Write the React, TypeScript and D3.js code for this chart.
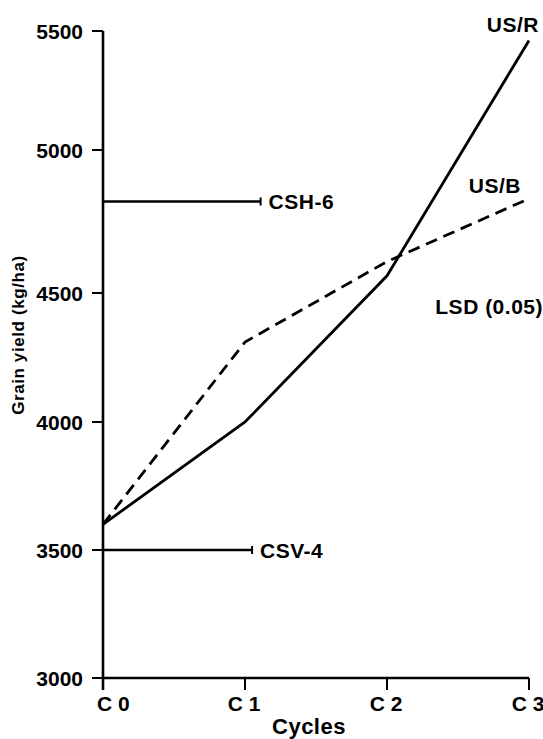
import React, { useEffect, useRef } from "react";
import * as d3 from "d3";

// cycles of selection and yields (kg/ha)
const cycles = ["C 0", "C 1", "C 2", "C 3"];
const usR = [3600, 4000, 4560, 5460];
const usB = [3600, 4310, 4610, 4830];
const yTicks = [3000, 3500, 4000, 4500, 5000, 5500];
// check varieties, drawn as flat reference lines
const checkNames = ["CSH-6", "CSV-4"];
const checkYields = [4820, 3500];
const checkEnds = [1.11, 1.05];

function App() {
    const svgRef = useRef(null);

    useEffect(() => {
        document.body.style.margin = "0";
        const svg = d3.select(svgRef.current);
        svg.selectAll("*").remove();

        const font = "'Liberation Sans', Arial, sans-serif";

        // the printed axis is not quite uniform, so map each tick to where it sits
        const y = d3
            .scaleLinear()
            .domain(yTicks)
            .range([678, 550, 422, 293, 150, 31]);
        const x = d3.scaleLinear().domain([0, 3]).range([103, 529]);

        const g = svg.append("g");

        // y axis
        g.append("line")
            .attr("x1", x(0)).attr("x2", x(0))
            .attr("y1", y(5500)).attr("y2", 690)
            .attr("stroke", "#000").attr("stroke-width", 2.6);
        g.selectAll(".ytick")
            .data(yTicks)
            .enter()
            .append("line")
            .attr("x1", x(0) - 11).attr("x2", x(0))
            .attr("y1", (d) => y(d)).attr("y2", (d) => y(d))
            .attr("stroke", "#000").attr("stroke-width", 2);
        g.selectAll(".ylab")
            .data(yTicks)
            .enter()
            .append("text")
            .attr("x", 83)
            .attr("y", (d) => y(d) + 8)
            .attr("text-anchor", "end")
            .attr("font-family", font)
            .attr("font-weight", "bold")
            .attr("font-size", 21)
            .text((d) => d);

        // x axis
        g.append("line")
            .attr("x1", x(0)).attr("x2", x(3))
            .attr("y1", y(3000)).attr("y2", y(3000))
            .attr("stroke", "#000").attr("stroke-width", 2.6);
        g.selectAll(".xtick")
            .data(cycles)
            .enter()
            .append("line")
            .attr("x1", (d, i) => x(i)).attr("x2", (d, i) => x(i))
            .attr("y1", y(3000)).attr("y2", 690)
            .attr("stroke", "#000").attr("stroke-width", 2);
        g.selectAll(".xlab")
            .data(cycles)
            .enter()
            .append("text")
            .attr("x", (d, i) => (i === 0 ? x(i) - 6 : x(i) - 1))
            .attr("y", 711)
            .attr("text-anchor", (d, i) => (i === 0 ? "start" : "middle"))
            .attr("font-family", font)
            .attr("font-weight", "bold")
            .attr("font-size", 21)
            .text((d) => d);

        g.append("text")
            .attr("x", 309)
            .attr("y", 734)
            .attr("text-anchor", "middle")
            .attr("font-family", font)
            .attr("font-weight", "bold")
            .attr("font-size", 22)
            .attr("letter-spacing", 0.5)
            .text("Cycles");

        g.append("text")
            .attr("transform", "translate(24,335) rotate(-90)")
            .attr("text-anchor", "middle")
            .attr("font-family", font)
            .attr("font-weight", "bold")
            .attr("font-size", 17)
            .attr("letter-spacing", 0.6)
            .text("Grain yield (kg/ha)");

        // check lines with end caps
        checkYields.forEach((v, i) => {
            g.append("line")
                .attr("x1", x(0)).attr("x2", x(checkEnds[i]))
                .attr("y1", y(v)).attr("y2", y(v))
                .attr("stroke", "#000").attr("stroke-width", 2.4);
            g.append("line")
                .attr("x1", x(checkEnds[i])).attr("x2", x(checkEnds[i]))
                .attr("y1", y(v) - 4).attr("y2", y(v) + 4)
                .attr("stroke", "#000").attr("stroke-width", 2);
            g.append("text")
                .attr("x", x(checkEnds[i]) + 8)
                .attr("y", y(v) + 8)
                .attr("font-family", font)
                .attr("font-weight", "bold")
                .attr("font-size", 21)
                .attr("letter-spacing", 0.5)
                .text(checkNames[i]);
        });

        const line = d3
            .line()
            .x((d, i) => x(i))
            .y((d) => y(d));

        g.append("path")
            .datum(usR)
            .attr("d", line)
            .attr("fill", "none")
            .attr("stroke", "#000")
            .attr("stroke-width", 2.8);

        g.append("path")
            .datum(usB)
            .attr("d", line)
            .attr("fill", "none")
            .attr("stroke", "#000")
            .attr("stroke-width", 2.8)
            .attr("stroke-dasharray", "12,7");

        // series labels
        const labels = [
            { t: "US/R", x: 539, y: 32 },
            { t: "US/B", x: 521, y: 193 },
            { t: "LSD (0.05)", x: 543, y: 314 },
        ];
        g.selectAll(".slab")
            .data(labels)
            .enter()
            .append("text")
            .attr("x", (d) => d.x)
            .attr("y", (d) => d.y)
            .attr("text-anchor", "end")
            .attr("font-family", font)
            .attr("font-weight", "bold")
            .attr("font-size", 21)
            .attr("letter-spacing", 0.5)
            .text((d) => d.t);
    }, []);

    return (
        <svg
            ref={svgRef}
            width={543}
            height={739}
            style={{ display: "block", background: "#fff" }}
        ></svg>
    );
}

export default App;
